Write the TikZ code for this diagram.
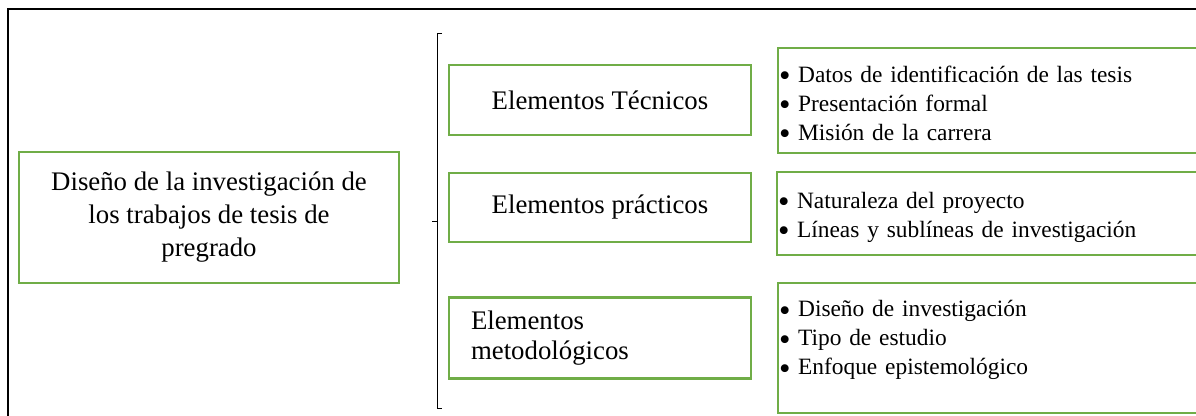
\documentclass[tikz,border=0pt]{standalone}
\usepackage{fontspec}
\setmainfont{Liberation Serif}
\usetikzlibrary{positioning}
\definecolor{boxgreen}{RGB}{112,173,71}
\newcommand{\itm}[1]{\makebox[9.5pt][l]{\raisebox{-2.2pt}{\scalebox{1.4}{\textbullet}}}#1}

\begin{document}
\begin{tikzpicture}[
        x=0.5pt, y=-0.5pt,
        box/.style={draw=boxgreen, line width=1.1pt, inner sep=0pt, font=\fontsize{13.4}{16.5}\selectfont},
        midbox/.style={box, minimum width=151pt, align=center},
        listbox/.style={box, anchor=west, inner xsep=0.5pt, text width=230pt, align=left, font=\fontsize{11.7}{14.5}\selectfont}
    ]
    \useasboundingbox (0,0) rectangle (1196,416);
    \clip (0,0) rectangle (1196,416);

    % Frame
    \draw[line width=1.2pt] (8,430) -- (8,9) -- (1210,9);

    % Nodes
    \node[box, minimum width=190pt, minimum height=65.5pt, align=center] (diseno) at (209,217.5) {Diseño de la investigación de\\ los trabajos de tesis de\\ pregrado};
    \node[midbox, minimum height=35pt] (tecnicos) at (600,100) {Elementos Técnicos};
    \node[midbox, minimum height=34.5pt] (practicos) at (600,207.5) {Elementos prácticos};
    \node[midbox, minimum height=40.5pt, text width=129pt, align=left, font=\fontsize{13.4}{15}\selectfont] (metodo) at (600,338) {Elementos\\ metodológicos};

    \node[listbox, minimum height=52.5pt] (ltecnicos) at (777,100.5) {\rule{0pt}{13pt}\itm{Datos de identificación de las tesis}\\ \itm{Presentación formal}\\ \itm{Misión de la carrera}};
    \node[listbox, minimum height=41.5pt] (lpracticos) at (776,213.5) {\rule{0pt}{12pt}\itm{Naturaleza del proyecto}\\ \itm{Líneas y sublíneas de investigación}};
    \node[listbox, minimum height=65pt] (lmetodo) at (777,348) {\itm{Diseño de investigación}\\ \itm{Tipo de estudio}\\ \itm{Enfoque epistemológico}\\[-4pt]\mbox{}};

    % Bracket
    \draw[line width=0.5pt] (442,34) -- (437,34) -- (437,409) -- (442,409);
    \draw[line width=0.5pt] (437,222) -- (432,222);

\end{tikzpicture}
\end{document}
